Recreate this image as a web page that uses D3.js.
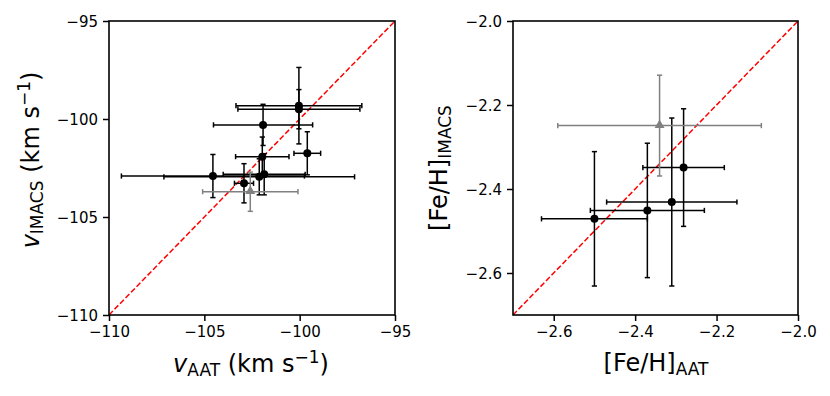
<!DOCTYPE html>
<html>
<head>
<meta charset="utf-8">
<script src="https://cdn.jsdelivr.net/npm/d3@7"></script>
<style>
  body { margin: 0; background: #fff; }
  svg { display: block; font-family: "DejaVu Sans", sans-serif; }
</style>
</head>
<body>
<div class="plot"></div>
<script>
// left panel: radial velocities
var vAAT      = [-100.04, -100.04, -101.92, -101.96, -99.6, -104.55, -102.12, -101.86, -102.92];
var vAATerr   = [3.3, 3.2, 2.6, 1.4, 0.7, 4.8, 5.0, 2.15, 0.5];
var vIMACS    = [-99.32, -99.5, -100.3, -101.92, -101.75, -102.91, -102.95, -102.82, -103.28];
var vIMACSerr = [1.95, 1.0, 1.05, 1.0, 1.1, 1.1, 0.92, 1.05, 1.0];
var vGray     = {x: -102.59, xe: 2.5, y: -103.71, ye: 1.0};

// right panel: metallicities
var fehAAT      = [-2.281, -2.310, -2.370, -2.500];
var fehAATerr   = [0.10, 0.16, 0.14, 0.13];
var fehIMACS    = [-2.349, -2.431, -2.451, -2.471];
var fehIMACSerr = [0.14, 0.20, 0.16, 0.16];
var fehGray     = {x: -2.340, xe: 0.25, y: -2.249, ye: 0.12};

var vTicks   = [-110, -105, -100, -95];
var fehTicks = [-2.6, -2.4, -2.2, -2.0];

var W = 830, H = 396;
var svg = d3.select('.plot').append('svg').attr('width', W).attr('height', H);

function panel(opt){
    var g = svg.append('g');
    var x = d3.scaleLinear().domain(opt.domain).range([opt.x0, opt.x1]);
    var y = d3.scaleLinear().domain(opt.domain).range([opt.y1, opt.y0]);

    var clipId = 'clip' + opt.id;
    svg.append('clipPath').attr('id', clipId).append('rect')
        .attr('x', opt.x0).attr('y', opt.y0)
        .attr('width', opt.x1 - opt.x0).attr('height', opt.y1 - opt.y0);

    // one-to-one line
    g.append('line')
        .attr('clip-path', 'url(#' + clipId + ')')
        .attr('x1', x(opt.domain[0])).attr('y1', y(opt.domain[0]))
        .attr('x2', x(opt.domain[1])).attr('y2', y(opt.domain[1]))
        .attr('stroke', 'red').attr('stroke-width', 1.5)
        .attr('stroke-dasharray', '5.5,2.4');

    var pts = opt.xs.map(function(d, i){
        return {x: d, xe: opt.xe[i], y: opt.ys[i], ye: opt.ye[i], c: '#000', m: 'o'};
    });
    var gp = opt.gray;
    pts.push({x: gp.x, xe: gp.xe, y: gp.y, ye: gp.ye, c: 'gray', m: '^'});

    var cap = 2.6;
    pts.forEach(function(p){
        var e = g.append('g').attr('stroke', p.c).attr('stroke-width', 1.5);
        var x0 = x(p.x - p.xe), x1 = x(p.x + p.xe), yc = y(p.y);
        var y0 = y(p.y - p.ye), y1 = y(p.y + p.ye), xc = x(p.x);
        e.append('line').attr('x1', x0).attr('x2', x1).attr('y1', yc).attr('y2', yc);
        e.append('line').attr('x1', xc).attr('x2', xc).attr('y1', y0).attr('y2', y1);
        [x0, x1].forEach(function(v){
            e.append('line').attr('x1', v).attr('x2', v).attr('y1', yc - cap).attr('y2', yc + cap);
        });
        [y0, y1].forEach(function(v){
            e.append('line').attr('y1', v).attr('y2', v).attr('x1', xc - cap).attr('x2', xc + cap);
        });
        if (p.m === 'o') {
            g.append('circle').attr('cx', xc).attr('cy', yc).attr('r', 4).attr('fill', p.c);
        } else {
            g.append('path')
                .attr('d', d3.symbol().type(d3.symbolTriangle).size(42)())
                .attr('transform', 'translate(' + xc + ',' + (yc - 0.5) + ')')
                .attr('fill', p.c);
        }
    });

    // axes
    var fmt = opt.fmt;
    var xa = g.append('g').attr('transform', 'translate(0,' + opt.y1 + ')')
        .call(d3.axisBottom(x).tickValues(opt.ticks).tickSize(6).tickSizeOuter(0).tickPadding(5).tickFormat(fmt));
    var ya = g.append('g').attr('transform', 'translate(' + opt.x0 + ',0)')
        .call(d3.axisLeft(y).tickValues(opt.ticks).tickSize(6).tickSizeOuter(0).tickPadding(5).tickFormat(fmt));
    [xa, ya].forEach(function(a){
        a.select('.domain').remove();
        a.selectAll('line').attr('stroke', '#000').attr('stroke-width', 1.5);
        a.selectAll('text').attr('font-size', 15).attr('fill', '#000')
            .attr('font-family', '"DejaVu Sans", sans-serif');
    });
    ya.selectAll('text').attr('dy', '0.36em');

    g.append('rect')
        .attr('x', opt.x0).attr('y', opt.y0)
        .attr('width', opt.x1 - opt.x0).attr('height', opt.y1 - opt.y0)
        .attr('fill', 'none').attr('stroke', '#000').attr('stroke-width', 1.6);

    return {x: x, y: y};
}

var minus = function(d){ return d.toString().replace('-', '\u2212'); };

panel({id: 'L', domain: [-110, -95], x0: 109, x1: 395, y0: 21, y1: 315,
    xs: vAAT, xe: vAATerr, ys: vIMACS, ye: vIMACSerr, gray: vGray,
    ticks: vTicks, fmt: minus});

panel({id: 'R', domain: [-2.7, -2.0], x0: 513, x1: 798, y0: 21, y1: 315,
    xs: fehAAT, xe: fehAATerr, ys: fehIMACS, ye: fehIMACSerr, gray: fehGray,
    ticks: fehTicks, fmt: function(d){ return minus(d3.format('.1f')(d)); }});

// axis labels
function label(x, y, rot, parts){
    var t = svg.append('text').attr('font-size', 24).attr('fill', '#000')
        .attr('text-anchor', 'middle')
        .attr('transform', 'translate(' + x + ',' + y + ')' + (rot ? ' rotate(' + rot + ')' : ''));
    var shift = 0;
    parts.forEach(function(p){
        var s = t.append('tspan').text(p.t);
        var want = p.sub ? 4 : (p.sup ? -9 : 0);
        s.attr('dy', want - shift);
        shift = want;
        if (p.sub || p.sup) s.attr('font-size', 17);
        if (p.it) s.attr('font-style', 'italic');
    });
}

label(251, 372, 0, [{t: 'v', it: true}, {t: 'AAT', sub: true}, {t: ' (km s'}, {t: '\u22121', sup: true}, {t: ')'}]);
label(39, 160, -90, [{t: 'v', it: true}, {t: 'IMACS', sub: true}, {t: ' (km s'}, {t: '\u22121', sup: true}, {t: ')'}]);
label(656, 371, 0, [{t: '[Fe/H]'}, {t: 'AAT', sub: true}]);
label(447, 168, -90, [{t: '[Fe/H]'}, {t: 'IMACS', sub: true}]);
</script>
</body>
</html>
